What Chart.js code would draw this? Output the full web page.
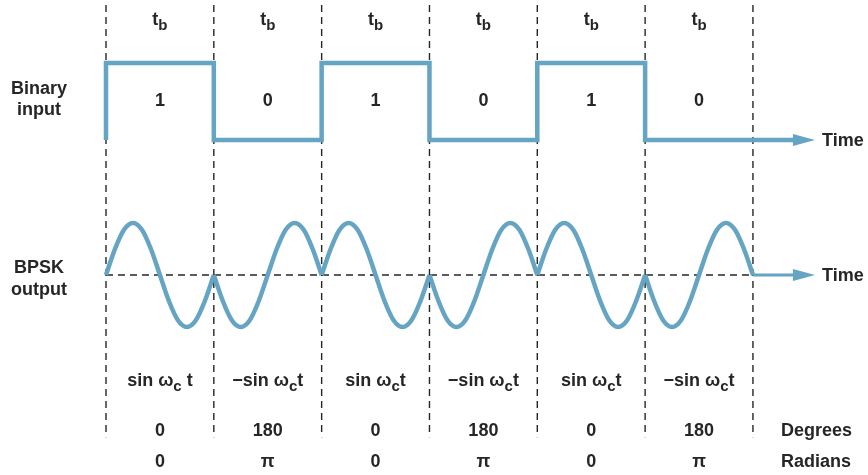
<!DOCTYPE html>
<html>
<head>
<meta charset="utf-8">
<script src="https://cdn.jsdelivr.net/npm/chart.js@4.4.1/dist/chart.umd.min.js"></script>
<style>
  html, body { margin: 0; padding: 0; background: #fff; }
  #wrap { width: 868px; height: 475px; }
</style>
</head>
<body>
<div id="wrap"><canvas id="bpsk" width="868" height="475"></canvas></div>
<script>
// data
const bits = [1, 0, 1, 0, 1, 0];
const periodLabels = ['t_b', 't_b', 't_b', 't_b', 't_b', 't_b'];
const exprLabels = ['sin ω_c t', '−sin ω_ct', 'sin ω_ct', '−sin ω_ct', 'sin ω_ct', '−sin ω_ct'];
const degreeLabels = ['0', '180', '0', '180', '0', '180'];
const radianLabels = ['0', 'π', '0', 'π', '0', 'π'];
// one carrier cycle, sampled every 30 degrees
const cycleShape = [0, 0.5, 0.87, 1, 0.87, 0.5, 0, -0.5, -0.87, -1, -0.87, -0.5, 0];

// layout (value units: x = bit periods, y = carrier amplitude)
const X_MIN = -0.983, X_MAX = 7.067;
const Y_MIN = -3.846, Y_MAX = 5.288;
const BIN_LOW = 2.596, BIN_HIGH = 4.077;
const GUIDE_TOP = 5.19, GUIDE_BOTTOM = -3.12;
const ARROW_TAIL = 6.45, ARROW_TIP = 6.575;

const blue = '#65a4c2';
const ink = '#262626';
const font = '"Liberation Sans", Arial, sans-serif';
const FS = 18;

// binary input trace
const binaryPts = [{ x: 0, y: BIN_LOW }];
bits.forEach((b, i) => {
  const lvl = b ? BIN_HIGH : BIN_LOW;
  binaryPts.push({ x: i, y: lvl }, { x: i + 1, y: lvl });
});
binaryPts.push({ x: ARROW_TAIL, y: bits[bits.length - 1] ? BIN_HIGH : BIN_LOW });

// bpsk segments, one per bit
const bpskSets = bits.map((b, i) => ({
  data: cycleShape.map((v, k) => ({ x: i + k / (cycleShape.length - 1), y: b ? v : -v })),
  borderColor: blue, borderWidth: 4.5, pointRadius: 0,
  cubicInterpolationMode: 'monotone', order: 1
}));

const guideSets = [];
for (let i = 0; i <= bits.length; i++) {
  guideSets.push({
    data: [{ x: i, y: GUIDE_TOP }, { x: i, y: GUIDE_BOTTOM }],
    borderColor: ink, borderWidth: 1.4, borderDash: [7, 5], pointRadius: 0, order: 3
  });
}

function drawRich(ctx, str, cx, cy, size) {
  const parts = [];
  let i = 0, buf = '';
  while (i < str.length) {
    if (str[i] === '_') {
      if (buf) parts.push({ t: buf, sub: false });
      buf = '';
      parts.push({ t: str[i + 1], sub: true });
      i += 2;
    } else { buf += str[i]; i++; }
  }
  if (buf) parts.push({ t: buf, sub: false });
  const mainF = `bold ${size}px ${font}`;
  const subF = `bold ${Math.round(size * 0.85)}px ${font}`;
  let w = 0;
  parts.forEach(p => { ctx.font = p.sub ? subF : mainF; p.w = ctx.measureText(p.t).width; w += p.w; });
  let x = cx - w / 2;
  ctx.textAlign = 'left';
  parts.forEach(p => {
    ctx.font = p.sub ? subF : mainF;
    ctx.fillText(p.t, x, p.sub ? cy + size * 0.3 : cy);
    x += p.w;
  });
}

const labelPlugin = {
  id: 'labels',
  afterDatasetsDraw(chart) {
    const ctx = chart.ctx;
    const xs = chart.scales.x, ys = chart.scales.y;
    ctx.save();
    ctx.textBaseline = 'middle';

    // arrowheads
    ctx.fillStyle = blue;
    [bits[bits.length - 1] ? BIN_HIGH : BIN_LOW, 0].forEach(v => {
      const py = ys.getPixelForValue(v);
      const tip = xs.getPixelForValue(ARROW_TIP);
      ctx.beginPath();
      ctx.moveTo(tip, py);
      ctx.lineTo(tip - 22, py - 6);
      ctx.lineTo(tip - 22, py + 6);
      ctx.closePath();
      ctx.fill();
    });

    ctx.fillStyle = ink;
    bits.forEach((b, i) => {
      const cx = xs.getPixelForValue(i + 0.5);
      drawRich(ctx, periodLabels[i], cx, 20, FS);
      drawRich(ctx, String(b), cx, 101, FS);
      drawRich(ctx, exprLabels[i], cx, 381, FS);
      drawRich(ctx, degreeLabels[i], cx, 431, FS);
      drawRich(ctx, radianLabels[i], cx, 462, FS);
    });

    const lx = 39;
    drawRich(ctx, 'Binary', lx, 89, FS);
    drawRich(ctx, 'input', lx, 110, FS);
    drawRich(ctx, 'BPSK', lx, 268, FS);
    drawRich(ctx, 'output', lx, 290, FS);

    ctx.textAlign = 'left';
    ctx.font = `bold ${FS}px ${font}`;
    ctx.fillText('Time', 822, ys.getPixelForValue(BIN_LOW) + 1);
    ctx.fillText('Time', 822, ys.getPixelForValue(0) + 1);
    ctx.fillText('Degrees', 781, 431);
    ctx.fillText('Radians', 781, 462);
    ctx.restore();
  }
};

new Chart(document.getElementById('bpsk'), {
  type: 'line',
  data: {
    datasets: [
      { data: binaryPts, borderColor: blue, borderWidth: 4.5, pointRadius: 0, tension: 0,
        borderJoinStyle: 'miter', borderCapStyle: 'butt', order: 1 },
      ...bpskSets,
      { data: [{ x: 6, y: 0 }, { x: ARROW_TAIL, y: 0 }], borderColor: blue, borderWidth: 3,
        pointRadius: 0, order: 1 },
      { data: [{ x: 0, y: 0 }, { x: 6, y: 0 }], borderColor: ink, borderWidth: 1.4,
        borderDash: [7, 5], pointRadius: 0, order: 3 },
      ...guideSets
    ]
  },
  options: {
    responsive: false,
    animation: false,
    layout: { padding: 0 },
    plugins: { legend: { display: false }, tooltip: { enabled: false } },
    scales: {
      x: { type: 'linear', min: X_MIN, max: X_MAX, display: false },
      y: { type: 'linear', min: Y_MIN, max: Y_MAX, display: false }
    }
  },
  plugins: [labelPlugin]
});
</script>
</body>
</html>
